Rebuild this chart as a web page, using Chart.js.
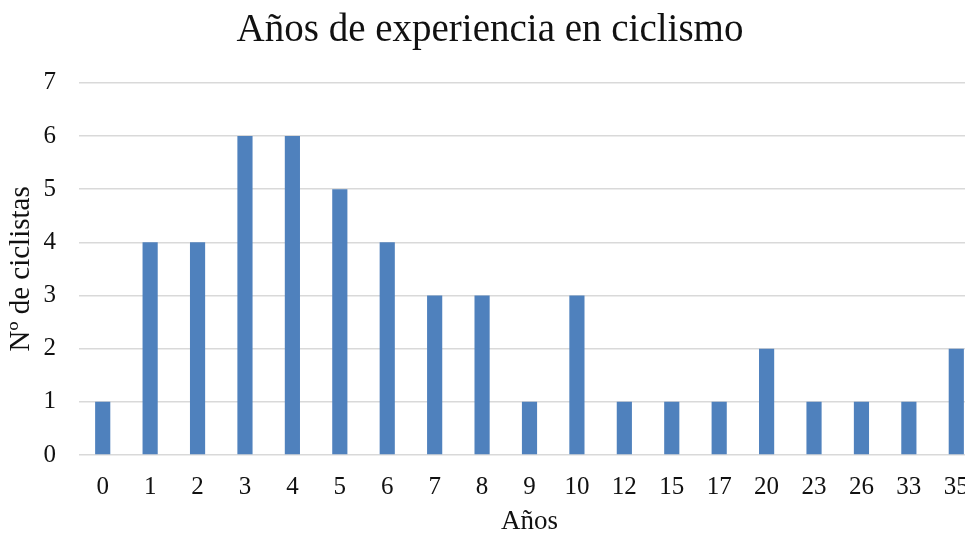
<!DOCTYPE html>
<html>
  <head>
    <meta charset="utf-8">
    <title>Años de experiencia en ciclismo</title>
    <style>
      html, body { margin: 0; padding: 0; background: #fff; overflow: hidden; }
      #wrap { width: 980px; height: 538px; }
    </style>
  </head>
  <body>
    <div id="wrap">
      <canvas id="myChart" width="980" height="538"></canvas>
    </div>
    <script src="https://cdn.jsdelivr.net/npm/chart.js@4/dist/chart.umd.min.js"></script>
    <script>
      var years = ['0', '1', '2', '3', '4', '5', '6', '7', '8', '9', '10', '12', '15', '17', '20', '23', '26', '33', '35'];
      var riders = [1, 4, 4, 6, 6, 5, 4, 3, 3, 1, 3, 1, 1, 1, 2, 1, 1, 1, 2];
      var yTicks = [0, 1, 2, 3, 4, 5, 6, 7];

      var serif = "'Liberation Serif', 'DejaVu Serif', serif";
      var ctx = document.getElementById('myChart');

      var myChart = new Chart(ctx, {
        type: 'bar',
        data: {
          labels: years,
          datasets: [{
            label: 'Nº de ciclistas',
            data: riders,
            backgroundColor: '#4f81bd',
            borderWidth: 0,
            categoryPercentage: 1,
            barPercentage: 0.32
          }]
        },
        options: {
          responsive: false,
          animation: false,
          layout: { padding: 0 },
          plugins: {
            legend: { display: false },
            tooltip: { enabled: false },
            title: {
              display: true,
              text: 'Años de experiencia en ciclismo',
              color: '#111',
              font: { family: serif, size: 39, weight: 'normal' },
              padding: { top: 7, bottom: 29 }
            }
          },
          scales: {
            x: {
              grid: { display: false },
              border: { display: false },
              ticks: { color: '#111', font: { family: serif, size: 25 }, padding: 9, maxRotation: 0, autoSkip: false },
              title: { display: true, text: 'Años', color: '#111', font: { family: serif, size: 27 }, padding: 0 },
              afterFit: function (s) { s.height = 83; }
            },
            y: {
              min: 0,
              max: yTicks[yTicks.length - 1],
              afterBuildTicks: function (s) { s.ticks = yTicks.map(function (v) { return { value: v }; }); },
              grid: { color: '#d9d9d9', lineWidth: 1.5, drawTicks: false },
              border: { display: false },
              ticks: { color: '#111', font: { family: serif, size: 25 }, padding: 23 },
              title: { display: true, text: 'Nº de ciclistas', color: '#111', font: { family: serif, size: 29 }, padding: { top: 4, bottom: 0 } },
              afterFit: function (s) { s.width = 79; }
            }
          }
        }
      });
    </script>
  </body>
</html>
